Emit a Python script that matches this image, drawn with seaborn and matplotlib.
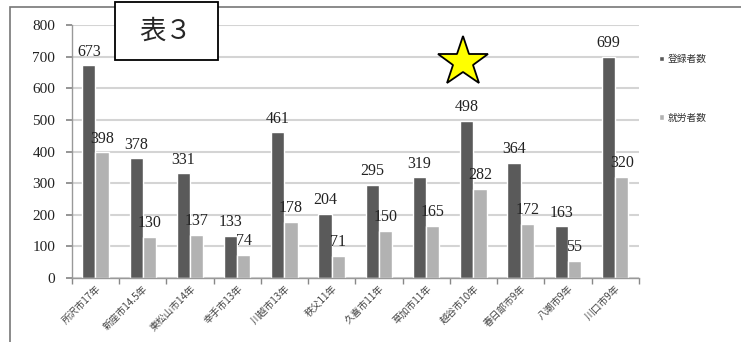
import matplotlib
matplotlib.use("Agg")
import matplotlib.pyplot as plt
import seaborn as sns
import pandas as pd
import numpy as np
from matplotlib.patches import Rectangle
from matplotlib.lines import Line2D

categories = ["所沢市17年", "新座市14.5年", "東松山市14年", "幸手市13年", "川越市13年", "秩父11年",
              "久喜市11年", "草加市11年", "越谷市10年", "春日部市9年", "八潮市9年", "川口市9年"]
registered = [673, 378, 331, 133, 461, 204, 295, 319, 498, 364, 163, 699]
working = [398, 130, 137, 74, 178, 71, 150, 165, 282, 172, 55, 320]
series_names = ["登録者数", "就労者数"]
yticks = [0, 100, 200, 300, 400, 500, 600, 700, 800]

df = pd.DataFrame({
    "city": categories * 2,
    "value": registered + working,
    "series": [series_names[0]] * len(categories) + [series_names[1]] * len(categories),
})

sns.set_theme(style="white")
plt.rcParams['font.family'] = ['Noto Sans CJK JP', 'DejaVu Sans']

fig = plt.figure(figsize=(7.41, 3.42), dpi=100)
ax = fig.add_axes([0.097, 0.187, 0.765, 0.74])

sns.barplot(data=df, x="city", y="value", hue="series", palette=["#5a5a5a", "#b2b2b2"],
            width=0.56, saturation=1, ax=ax, order=categories, hue_order=series_names, legend=True)

for cont in ax.containers:
    ax.bar_label(cont, padding=4, fontsize=11.5, family="Liberation Serif", color="#222222")

ax.set_ylim(0, 800)
ax.set_xlim(-0.5, len(categories) - 0.5)
ax.set_yticks(yticks)
ax.set_yticklabels([str(v) for v in yticks], family="Liberation Serif", fontsize=11, color="#222222")
ax.yaxis.grid(True, color="#d4d4d4", linewidth=1.5)
ax.set_axisbelow(True)
ax.set_xlabel("")
ax.set_ylabel("")

ax.set_xticks(range(len(categories)))
ax.set_xticklabels(categories, rotation=45, ha="right", rotation_mode="anchor", fontsize=7, color="#444444")
ax.tick_params(axis="x", length=0, pad=4)
ax.set_xticks(np.arange(-0.5, len(categories), 1), minor=True)
ax.tick_params(axis="x", which="minor", length=4, color="#888888", bottom=True, direction="out")
ax.tick_params(axis="y", length=4, color="#888888", left=True, pad=8)

for s in ["top", "right"]:
    ax.spines[s].set_visible(False)
for s in ["left", "bottom"]:
    ax.spines[s].set_color("#999999")
    ax.spines[s].set_linewidth(1)

leg = ax.legend(loc="upper left", bbox_to_anchor=(1.02, 0.92), frameon=False, fontsize=7,
                labelspacing=5.0, handlelength=0.5, handleheight=0.5, handletextpad=0.4)
for t in leg.get_texts():
    t.set_color("#333333")

# outer frame
fig.add_artist(Rectangle((10 / 741, -0.05), 1.0, (342 - 7) / 342 + 0.05, transform=fig.transFigure,
                         fill=False, edgecolor="#777777", linewidth=1.2))

# title box
fig.add_artist(Rectangle((115 / 741, 1 - 60 / 342), 103 / 741, 58 / 342, transform=fig.transFigure,
                         facecolor="white", edgecolor="black", linewidth=1.3, zorder=5))
fig.text(166 / 741, 1 - 31 / 342, "表３", ha="center", va="center", fontsize=19, zorder=6)

# star
fig.add_artist(Line2D([463 / 741], [1 - 62 / 342], marker="*", markersize=38, color="#ffff00",
                      markeredgecolor="black", markeredgewidth=1.3, transform=fig.transFigure))

fig.savefig("out.png", dpi=100)
